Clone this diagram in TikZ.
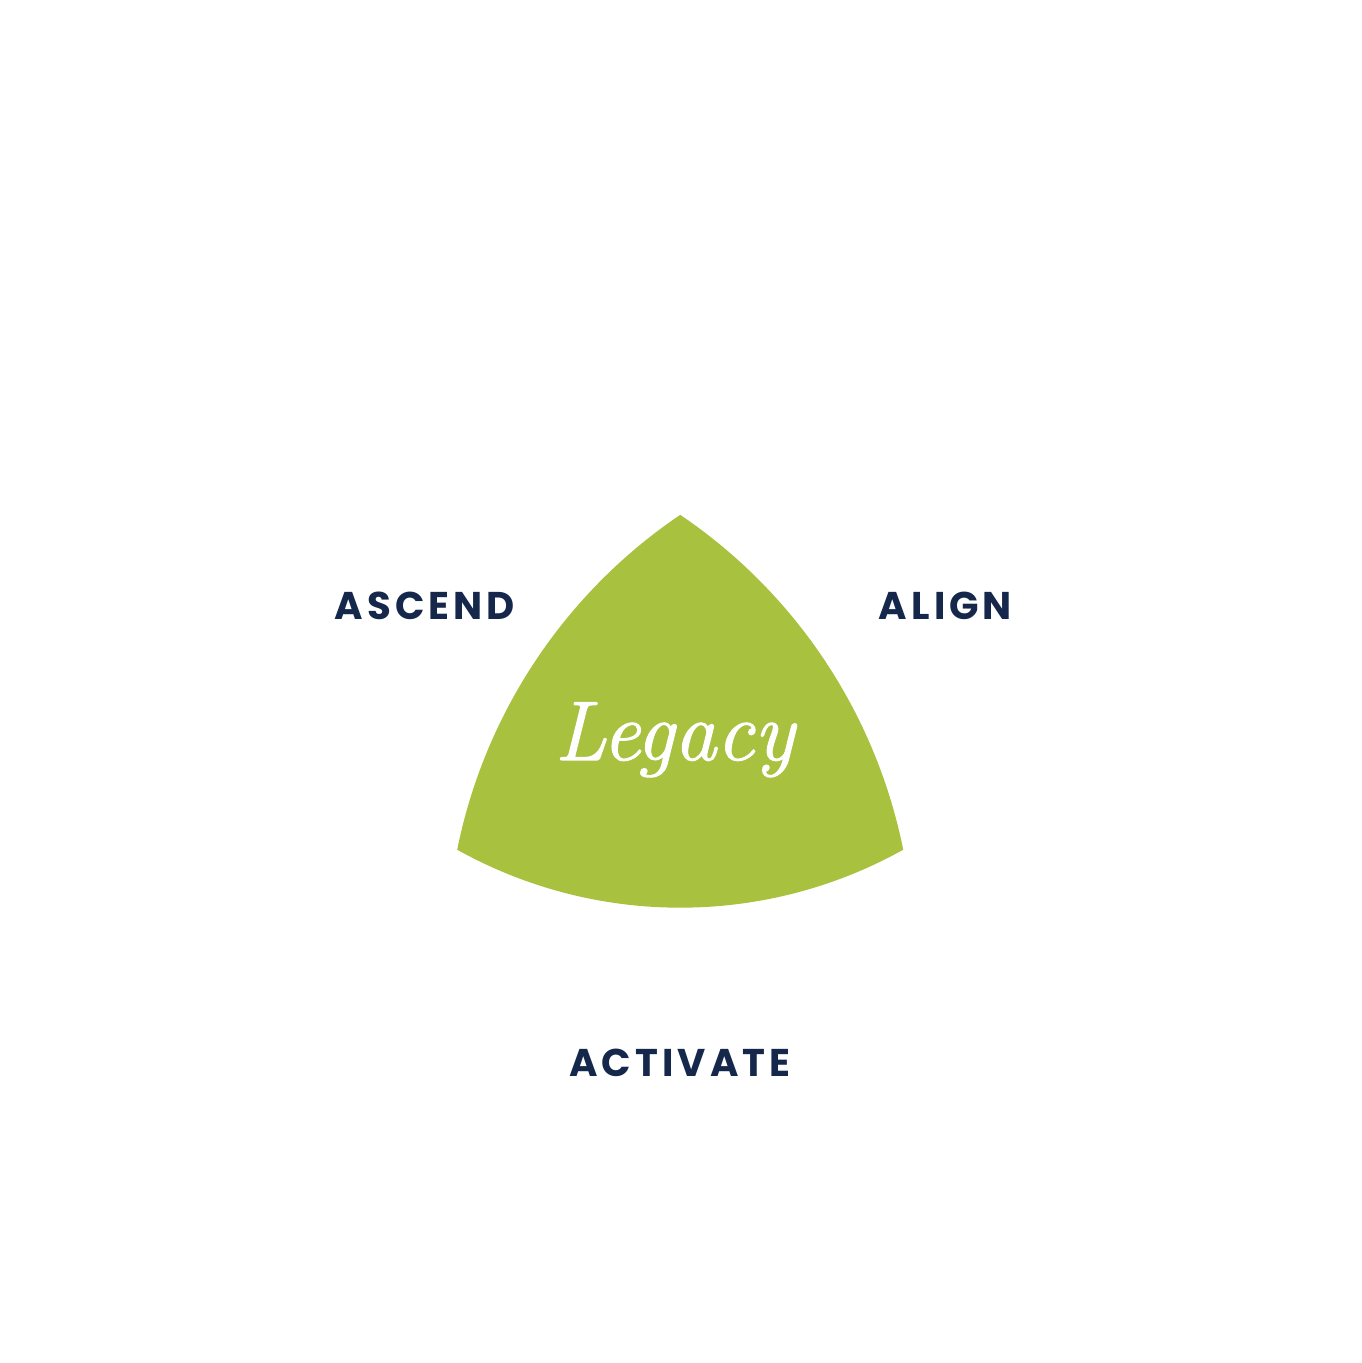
\documentclass[tikz,border=0pt]{standalone}
\usepackage{fontspec}
\usepackage{xcolor}
\usepackage{tikz}
\newfontfamily\stagefont[LetterSpace=10.5]{Poppins}
\newfontfamily\legacyfont[ItalicFeatures={FakeBold=1.3}]{Latin Modern Roman}
\definecolor{legacygreen}{HTML}{A8C13E}
\definecolor{stagenavy}{HTML}{15284B}

\begin{document}
\begin{tikzpicture}[%
  stage/.style={text=stagenavy,font=\stagefont\bfseries\fontsize{11}{13}\selectfont,inner sep=0pt},
  core/.style={text=white,font=\legacyfont\itshape\fontsize{24}{29}\selectfont,inner sep=0pt,anchor=base},
  petal/.style={fill=legacygreen,draw=none}
]
  \useasboundingbox (0,0) rectangle (13.61,13.63);

  % centre of the three circles
  \fill [petal] (6.80,8.48)
    arc [start angle=124.1, end angle=168.6, radius=5.31]
    arc [start angle=240.86, end angle=299.14, radius=4.58]
    arc [start angle=11.4, end angle=55.9, radius=5.31] -- cycle;

  \node (legacy) at (6.745,6.03) [core] {Legacy};

  \node (ascend) at (4.25,7.575) [stage] {ASCEND};
  \node (align) at (9.455,7.575) [stage] {ALIGN};
  \node (activate) at (6.80,3.00) [stage] {ACTIVATE};
\end{tikzpicture}
\end{document}
